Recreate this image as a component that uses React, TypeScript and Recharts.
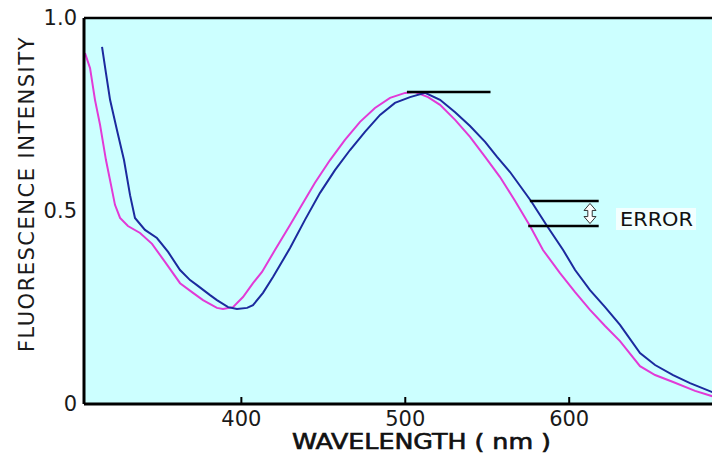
import React from 'react';
import { LineChart, Line, XAxis, YAxis, CartesianGrid, ReferenceLine } from 'recharts';

// Blue curve (wavelength nm, relative fluorescence intensity)
const blueWavelength = [
  315.0, 317.4, 319.9, 324.1, 328.4, 332.1, 335.1, 341.2, 348.5, 355.3, 362.6, 368.7, 372.9, 380.9,
  385.1, 391.9, 397.3, 403.5, 407.1, 413.2, 419.3, 429.7, 438.8, 448.0, 457.1, 466.3, 475.4, 484.6,
  493.7, 502.9, 512.1, 521.2, 530.4, 539.5, 548.7, 556.0, 563.9, 576.7, 586.5, 596.3, 603.6, 612.7,
  621.9, 631.0, 643.2, 652.4, 663.4, 673.7, 689.0,
];
const blueIntensity = [
  0.925, 0.857, 0.788, 0.71, 0.632, 0.541, 0.482, 0.451, 0.43, 0.394, 0.347, 0.321, 0.308, 0.282,
  0.269, 0.251, 0.246, 0.249, 0.256, 0.288, 0.329, 0.404, 0.477, 0.547, 0.606, 0.658, 0.705, 0.749,
  0.78, 0.795, 0.806, 0.788, 0.756, 0.72, 0.679, 0.64, 0.601, 0.526, 0.461, 0.399, 0.347, 0.295,
  0.251, 0.205, 0.132, 0.101, 0.075, 0.054, 0.028,
];

// Magenta curve
const pinkWavelength = [
  304.6, 307.7, 310.7, 313.8, 317.4, 320.5, 322.9, 326.0, 330.8, 338.2, 345.5, 353.4, 362.6, 370.5,
  376.6, 385.1, 388.8, 394.9, 401.0, 407.1, 412.6, 420.5, 429.7, 435.8, 444.9, 454.1, 463.2, 472.4,
  481.5, 490.7, 499.9, 506.0, 513.9, 521.2, 530.4, 539.5, 548.7, 557.8, 567.0, 576.1, 584.0, 594.4,
  603.6, 612.7, 621.9, 631.0, 643.2, 652.4, 663.4, 676.8, 689.0,
];
const pinkIntensity = [
  0.909, 0.87, 0.788, 0.723, 0.632, 0.567, 0.516, 0.482, 0.461, 0.443, 0.415, 0.368, 0.313, 0.288,
  0.269, 0.249, 0.246, 0.251, 0.277, 0.313, 0.342, 0.399, 0.464, 0.508, 0.573, 0.632, 0.684, 0.731,
  0.767, 0.793, 0.806, 0.808, 0.795, 0.775, 0.736, 0.692, 0.64, 0.588, 0.526, 0.461, 0.399, 0.339,
  0.29, 0.244, 0.202, 0.163, 0.098, 0.075, 0.057, 0.034, 0.018,
];

const xTicks = [400, 500, 600];
const yTicks = [0, 0.5, 1];
const yTickLabels = ['0', '0.5', '1.0'];
const xDomain = [304, 692];

// Annotation marks (data coordinates)
const peakMark = { from: 501, to: 552, level: 0.808 };
const errorUpper = { from: 576, to: 618, level: 0.526 };
const errorLower = { from: 575, to: 618, level: 0.461 };
const errorArrowAt = 612.7;

const blueData = blueWavelength.map((nm, i) => ({ nm, v: blueIntensity[i] }));
const pinkData = pinkWavelength.map((nm, i) => ({ nm, v: pinkIntensity[i] }));

const FONT = '"DejaVu Sans", sans-serif';

const XTick = (props: any) => {
  const { x, y, payload } = props;
  return (
    <g>
      <line x1={x} x2={x} y1={y} y2={y - 7} stroke="#000" strokeWidth={2} />
      <text x={x} y={y + 22} textAnchor="middle" fontSize={21} fontFamily={FONT} fill="#1a1a1a">
        {payload.value}
      </text>
    </g>
  );
};

const ArrowShape = (props: any) => {
  const { x1, y1, y2 } = props;
  const top = Math.min(y1, y2) + 2.5;
  const bot = Math.max(y1, y2) - 2.5;
  const hw = 6;
  const sw = 2.2;
  const hh = 7;
  const pts = [
    [x1, top],
    [x1 + hw, top + hh],
    [x1 + sw, top + hh],
    [x1 + sw, bot - hh],
    [x1 + hw, bot - hh],
    [x1, bot],
    [x1 - hw, bot - hh],
    [x1 - sw, bot - hh],
    [x1 - sw, top + hh],
    [x1 - hw, top + hh],
  ]
    .map((p) => p.join(','))
    .join(' ');
  return <polygon points={pts} fill="#fff" stroke="#333" strokeWidth={1} />;
};

export default function App() {
  return (
    <div style={{ position: 'relative', width: 720, height: 456, margin: '-8px 0 0 -8px', background: '#fff' }}>
      <LineChart width={720} height={456} margin={{ top: 18, right: 0, bottom: 0, left: 0 }}>
        <CartesianGrid horizontal={false} vertical={false} fill="#ccffff" />
        <XAxis
          type="number"
          dataKey="nm"
          domain={xDomain}
          allowDataOverflow
          ticks={xTicks}
          height={52}
          tickSize={0}
          tickMargin={0}
          tickLine={false}
          axisLine={{ stroke: '#000', strokeWidth: 3 }}
          tick={<XTick />}
        />
        <YAxis
          type="number"
          dataKey="v"
          domain={[0, 1]}
          allowDataOverflow
          ticks={yTicks}
          width={84}
          tickSize={0}
          tickMargin={7}
          tickLine={false}
          axisLine={{ stroke: '#000', strokeWidth: 3 }}
          tickFormatter={(v: number) => yTickLabels[yTicks.indexOf(v)]}
          tick={{ fill: '#1a1a1a', fontSize: 21, fontFamily: FONT }}
        />
        <ReferenceLine y={1} stroke="#000" strokeWidth={2.5} />
        <Line
          data={pinkData}
          dataKey="v"
          type="linear"
          stroke="#e23ad6"
          strokeWidth={2}
          dot={false}
          isAnimationActive={false}
        />
        <Line
          data={blueData}
          dataKey="v"
          type="linear"
          stroke="#1c2a9e"
          strokeWidth={2}
          dot={false}
          isAnimationActive={false}
        />
        <ReferenceLine
          segment={[{ x: peakMark.from, y: peakMark.level }, { x: peakMark.to, y: peakMark.level }]}
          stroke="#000"
          strokeWidth={2.5}
          ifOverflow="visible"
        />
        <ReferenceLine
          segment={[{ x: errorUpper.from, y: errorUpper.level }, { x: errorUpper.to, y: errorUpper.level }]}
          stroke="#000"
          strokeWidth={2.5}
          ifOverflow="visible"
        />
        <ReferenceLine
          segment={[{ x: errorLower.from, y: errorLower.level }, { x: errorLower.to, y: errorLower.level }]}
          stroke="#000"
          strokeWidth={2.5}
          ifOverflow="visible"
        />
        <ReferenceLine
          segment={[{ x: errorArrowAt, y: errorUpper.level }, { x: errorArrowAt, y: errorLower.level }]}
          shape={<ArrowShape />}
          ifOverflow="visible"
        />
      </LineChart>
      <svg
        width={720}
        height={456}
        style={{ position: 'absolute', left: 0, top: 0, pointerEvents: 'none' }}
      >
        <rect x={616} y={208} width={80} height={22} fill="#f2ffff" />
        <text x={620} y={226} fontSize={19} fontFamily={FONT} fill="#111" textLength={73} lengthAdjust="spacingAndGlyphs">
          ERROR
        </text>
        <text
          x={292}
          y={449}
          fontSize={22}
          fontFamily='"DejaVu Sans Condensed", "DejaVu Sans", sans-serif'
          fill="#111"
          stroke="#111"
          strokeWidth={0.6}
          textLength={259}
          lengthAdjust="spacingAndGlyphs"
        >
          WAVELENGTH ( nm )
        </text>
        <text
          x={27}
          y={194}
          transform="rotate(-90 27 194)"
          textAnchor="middle"
          dominantBaseline="central"
          fontSize={21}
          fontFamily={FONT}
          letterSpacing={1.5}
          fill="#1a1a1a"
        >
          FLUORESCENCE INTENSITY
        </text>
      </svg>
    </div>
  );
}
